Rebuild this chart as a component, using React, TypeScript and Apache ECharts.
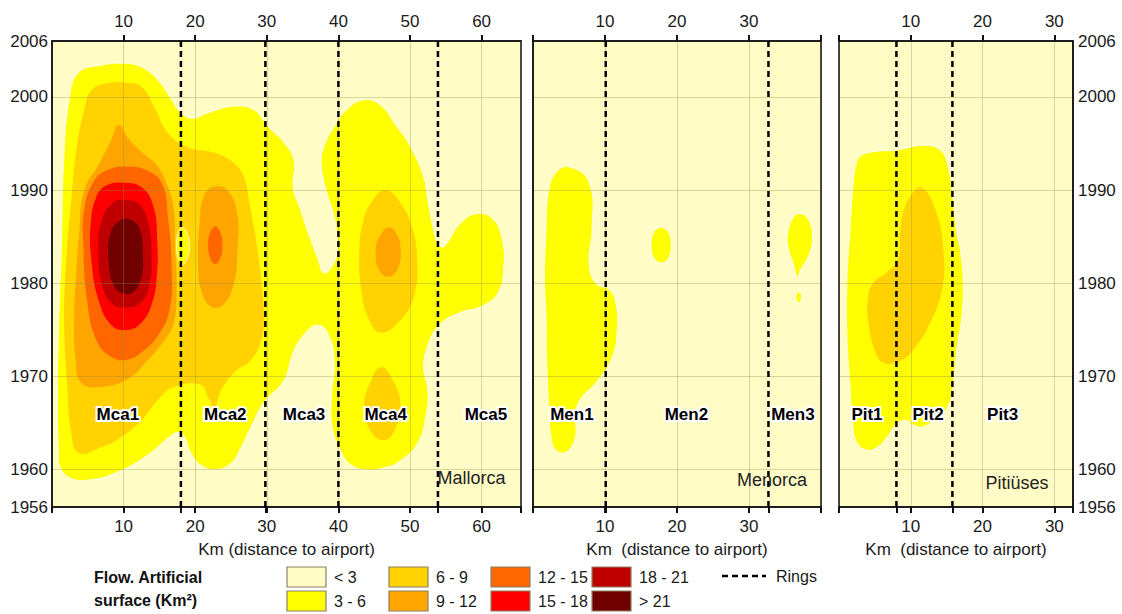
import React, { useEffect, useRef } from "react";
import * as echarts from "echarts";

const FONT = "'Liberation Sans', Arial, Helvetica, sans-serif";

// ---- classes ----
const LEVEL_COLORS = ["#FFFCC6", "#FFFF00", "#FFD200", "#FFA500", "#FF6600", "#FF0000", "#C00000", "#700000"];
const LEVEL_LABELS = ["< 3", "3 - 6", "6 - 9", "9 - 12", "12 - 15", "15 - 18", "18 - 21", "> 21"];

// ---- y axis (years) ----
const YEAR_MIN = 1956;
const YEAR_MAX = 2006;
const YEAR_TICK_LABELS = [1956, 1960, 1970, 1980, 1990, 2000, 2006];
const YEAR_GRID_LINES = [1960, 1970, 1980, 1990, 2000];
const ZONE_LABEL_YEAR = 1965.9;

// ---- Mallorca ----
const MCA_MAX_KM = 65.5;
const MCA_TICKS = [10, 20, 30, 40, 50, 60];
const MCA_RINGS = [18, 29.8, 40, 53.9];
const MCA_ZONES = ["Mca1", "Mca2", "Mca3", "Mca4", "Mca5"];
const MCA_ZONE_KM = [9.2, 24.2, 35.2, 46.6, 60.6];

const MCA_YELLOW = [[0.9,1961.6],[0.75,1967.5],[0.9,1975.0],[1.3,1983.6],[1.6,1992.5],[2.4,1999.7],[3.7,2002.6],[6.9,2003.4],[10.1,2003.6],[12.5,2003.2],[14.8,2001.8],[16.7,1999.7],[18.0,1998.3],[19.7,1997.7],[21.8,1998.3],[25.4,1999.0],[28.2,1998.6],[30.2,1996.8],[32.4,1995.1],[33.8,1993.2],[33.7,1990.3],[34.8,1987.7],[35.8,1985.4],[37.2,1982.5],[38.0,1981.1],[39.4,1982.2],[39.9,1984.1],[39.4,1987.1],[38.3,1990.0],[37.6,1992.7],[37.9,1994.5],[39.4,1996.8],[41.1,1998.6],[43.6,1999.7],[45.9,1999.1],[48.0,1997.0],[50.1,1994.6],[51.9,1991.4],[52.5,1988.9],[53.3,1985.7],[53.9,1984.3],[54.7,1983.9],[57.1,1986.5],[59.5,1987.5],[61.7,1986.8],[62.9,1984.6],[63.1,1981.8],[62.3,1979.0],[59.9,1977.5],[57.1,1976.9],[54.3,1975.7],[52.6,1973.6],[51.9,1971.0],[52.5,1968.5],[52.2,1965.7],[51.1,1962.9],[48.7,1961.0],[46.4,1960.2],[43.8,1960.0],[41.8,1960.5],[40.4,1961.9],[39.2,1964.3],[39.0,1967.5],[39.4,1971.8],[38.5,1974.7],[37.2,1975.5],[35.8,1975.0],[33.8,1972.8],[32.4,1969.6],[29.6,1967.2],[27.8,1964.6],[26.4,1962.4],[25.0,1960.7],[22.7,1960.0],[20.8,1960.5],[19.4,1961.8],[18.5,1963.5],[17.6,1964.0],[16.2,1963.4],[13.4,1961.6],[9.3,1959.8],[5.1,1958.9],[2.3,1959.2],[1.0,1960.5]];
const MCA_GOLD = [[4.5,1998.6],[5.5,2000.7],[7.9,2001.5],[10.7,2001.5],[12.5,2001.1],[14.3,1998.9],[16.2,1996.1],[19.0,1994.6],[22.7,1994.0],[25.4,1992.9],[26.8,1991.4],[27.5,1988.9],[28.5,1984.6],[29.2,1980.4],[29.6,1976.4],[29.2,1973.9],[27.8,1971.8],[25.4,1970.4],[23.6,1968.5],[22.7,1966.7],[21.8,1967.8],[20.8,1969.1],[17.1,1968.9],[14.8,1967.5],[12.5,1965.3],[9.7,1963.5],[6.9,1962.4],[3.7,1961.8],[2.7,1963.9],[2.1,1969.3],[1.7,1976.4],[2.1,1983.6],[2.7,1988.9],[3.4,1994.3]];
const MCA_YELLOW_HOLE = [[18.2,1986.0],[18.9,1985.3],[19.2,1984.0],[18.9,1982.7],[18.2,1982.0],[17.6,1982.7],[17.4,1984.0],[17.6,1985.3]];
const MCA1_ORANGE = [[9.3,1997.0],[10.8,1995.4],[12.5,1994.1],[14.6,1992.7],[16.2,1990.3],[17.0,1987.9],[17.2,1983.6],[17.4,1979.3],[17.0,1975.7],[15.7,1973.9],[13.4,1971.8],[10.7,1969.8],[6.9,1968.9],[4.1,1969.3],[3.3,1971.8],[3.1,1976.1],[3.4,1981.4],[3.8,1985.4],[4.5,1990.0],[6.5,1992.7],[8.3,1995.4]];
const MCA1_DKORANGE = [[7.9,1992.2],[10.4,1992.5],[12.9,1992.2],[15.3,1990.8],[16.2,1987.1],[16.7,1981.8],[16.4,1977.1],[14.8,1974.4],[12.5,1972.6],[10.4,1971.8],[8.3,1972.1],[6.2,1973.9],[4.9,1978.2],[4.4,1983.6],[4.5,1987.9],[5.8,1990.9]];
const MCA1_RED = [[7.6,1990.5],[10.1,1990.8],[12.5,1990.3],[14.1,1988.4],[14.7,1984.6],[14.6,1980.4],[13.9,1977.7],[12.5,1975.8],[10.4,1975.0],[8.3,1975.5],[6.5,1978.2],[5.5,1982.5],[5.4,1986.3],[6.2,1989.3]];
const MCA1_DKRED = [[8.6,1988.7],[10.4,1988.9],[12.2,1988.5],[13.4,1986.6],[13.9,1983.0],[13.6,1979.8],[12.5,1978.0],[10.4,1977.4],[8.3,1977.9],[7.0,1979.8],[6.5,1983.0],[6.9,1986.6]];
const MCA1_MAROON = [[9.4,1986.7],[11.1,1986.8],[12.3,1985.7],[12.7,1983.0],[12.5,1980.6],[11.4,1979.1],[10.0,1978.9],[8.6,1979.8],[7.9,1982.5],[8.1,1985.2]];
const MCA2_ORANGE = [[22.9,1990.4],[24.7,1989.8],[25.9,1987.3],[25.9,1983.6],[25.4,1980.0],[23.9,1977.7],[22.2,1977.5],[20.8,1979.3],[20.4,1982.5],[20.6,1986.3],[21.3,1989.5]];
const MCA2_DKORANGE = [[22.8,1986.1],[23.5,1985.5],[23.8,1984.1],[23.5,1982.7],[22.8,1982.1],[22.1,1982.7],[21.8,1984.1],[22.1,1985.5]];
const MCA4_GOLD = [[46.6,1990.0],[48.7,1988.6],[50.4,1985.7],[51.0,1982.2],[50.5,1978.5],[48.7,1976.1],[45.9,1974.7],[44.1,1976.4],[43.2,1979.3],[42.9,1982.8],[43.4,1986.5],[44.8,1988.9]];
const MCA4_ORANGE = [[47.1,1986.0],[48.2,1985.2],[48.7,1983.4],[48.3,1981.6],[47.1,1980.7],[45.7,1981.4],[45.2,1983.4],[45.8,1985.1]];
const MCA4_GOLD_LOW = [[45.9,1971.0],[47.6,1969.6],[48.7,1966.9],[48.0,1964.5],[46.6,1963.2],[44.6,1964.0],[43.6,1966.9],[44.3,1969.1]];

const MCA_CONTOURS: [number, number[][]][] = [
  [1, MCA_YELLOW], [2, MCA_GOLD], [1, MCA_YELLOW_HOLE], [3, MCA1_ORANGE], [4, MCA1_DKORANGE],
  [5, MCA1_RED], [6, MCA1_DKRED], [7, MCA1_MAROON], [3, MCA2_ORANGE], [4, MCA2_DKORANGE],
  [2, MCA4_GOLD], [3, MCA4_ORANGE], [2, MCA4_GOLD_LOW],
];

// ---- Menorca ----
const MEN_MAX_KM = 40;
const MEN_TICKS = [10, 20, 30];
const MEN_RINGS = [10.1, 32.7];
const MEN_ZONES = ["Men1", "Men2", "Men3"];
const MEN_ZONE_KM = [5.4, 21.3, 36.1];

const MEN1_YELLOW = [[5.0,1992.5],[7.8,1990.8],[8.2,1985.7],[7.8,1982.2],[8.7,1980.0],[10.6,1979.3],[11.5,1977.9],[11.7,1975.0],[11.0,1972.1],[8.7,1969.3],[6.8,1967.8],[5.9,1966.1],[5.9,1963.5],[4.6,1961.9],[3.2,1962.1],[2.5,1963.5],[2.2,1966.7],[1.9,1971.5],[1.8,1976.4],[1.6,1980.4],[1.8,1985.7],[2.2,1990.0],[3.2,1991.9]];
const MEN2_YELLOW = [[17.8,1986.0],[18.8,1985.5],[19.2,1984.1],[18.8,1982.7],[17.8,1982.2],[16.8,1982.7],[16.4,1984.1],[16.8,1985.5]];
const MEN3_YELLOW = [[37.1,1987.5],[38.3,1986.8],[38.8,1985.0],[38.4,1983.2],[37.2,1981.5],[36.7,1980.7],[36.2,1982.0],[35.4,1984.0],[35.4,1985.5],[36.1,1987.0]];
const MEN3_DOT = [[36.9,1979.1],[37.3,1978.5],[36.9,1977.9],[36.5,1978.5]];

const MEN_CONTOURS: [number, number[][]][] = [
  [1, MEN1_YELLOW], [1, MEN2_YELLOW], [1, MEN3_YELLOW], [1, MEN3_DOT],
];

// ---- Pitiüses ----
const PIT_MAX_KM = 32.6;
const PIT_TICKS = [10, 20, 30];
const PIT_RINGS = [8.0, 15.8];
const PIT_ZONES = ["Pit1", "Pit2", "Pit3"];
const PIT_ZONE_KM = [3.9, 12.4, 22.8];

const PIT_YELLOW = [[2.9,1993.6],[4.7,1994.1],[8.1,1994.3],[11.7,1994.8],[14.1,1994.3],[15.2,1992.5],[15.9,1988.9],[16.4,1985.4],[16.9,1983.6],[17.3,1980.0],[17.1,1976.4],[16.4,1972.8],[15.9,1969.3],[15.1,1966.7],[13.1,1965.3],[11.7,1964.6],[10.3,1964.8],[9.4,1965.3],[8.1,1965.0],[6.7,1963.5],[5.3,1962.4],[3.9,1962.1],[2.5,1962.9],[1.9,1965.0],[1.5,1969.3],[1.1,1974.7],[1.1,1980.0],[1.5,1985.4],[1.9,1990.0],[2.3,1992.5]];
const PIT_GOLD = [[11.5,1990.3],[13.6,1987.5],[14.5,1983.9],[14.5,1980.0],[13.1,1976.4],[10.3,1972.8],[8.0,1971.5],[6.1,1971.5],[5.0,1972.8],[4.1,1975.7],[4.0,1978.2],[4.7,1980.0],[6.7,1981.2],[8.2,1982.5],[8.5,1985.4],[8.9,1987.5],[9.9,1989.3]];

const PIT_CONTOURS: [number, number[][]][] = [[1, PIT_YELLOW], [2, PIT_GOLD]];

// ---- layout ----
const GRIDS = [
  { left: 52, width: 469 },
  { left: 533, width: 288 },
  { left: 839, width: 234 },
];
const GRID_TOP = 41;
const GRID_HEIGHT = 466;

const PANELS = [
  { max: MCA_MAX_KM, ticks: MCA_TICKS, topTicks: MCA_TICKS, rings: MCA_RINGS, zones: MCA_ZONES, zoneKm: MCA_ZONE_KM, contours: MCA_CONTOURS, island: "Mallorca", islandPos: [58.6, 1959.1], axisName: "Km (distance to airport)" },
  { max: MEN_MAX_KM, ticks: MEN_TICKS, topTicks: [0, 10, 20, 30, 40], rings: MEN_RINGS, zones: MEN_ZONES, zoneKm: MEN_ZONE_KM, contours: MEN_CONTOURS, island: "Menorca", islandPos: [33.2, 1958.9], axisName: "Km  (distance to airport)" },
  { max: PIT_MAX_KM, ticks: PIT_TICKS, topTicks: [0, 10, 20, 30], rings: PIT_RINGS, zones: PIT_ZONES, zoneKm: PIT_ZONE_KM, contours: PIT_CONTOURS, island: "Pitiüses", islandPos: [24.8, 1958.6], axisName: "Km  (distance to airport)" },
];

const TXT = "#1a1a1a";
const plain = (v: number) => String(v);

function buildOption() {
  const grid: any[] = [];
  const xAxis: any[] = [];
  const yAxis: any[] = [];
  const series: any[] = [];

  PANELS.forEach((p, i) => {
    grid.push({
      left: GRIDS[i].left, width: GRIDS[i].width, top: GRID_TOP, height: GRID_HEIGHT,
      show: true, z: 5, borderColor: "#111", borderWidth: 1.5, backgroundColor: "transparent",
      containLabel: false, outerBoundsMode: "none",
    });
    xAxis.push({
      type: "value", gridIndex: i, position: "bottom", min: 0, max: p.max, z: 4,
      name: p.axisName, nameLocation: "middle", nameGap: 34, nameMoveOverlap: false,
      nameTextStyle: { fontSize: 17, color: TXT, fontFamily: FONT },
      axisLine: { show: true, onZero: false, lineStyle: { color: "#111", width: 1.5 } },
      axisTick: { show: true, length: 6, customValues: [0, ...p.ticks, ...p.rings, p.max], lineStyle: { color: "#111", width: 2 } },
      axisLabel: { show: true, customValues: p.ticks, formatter: plain, margin: 11, fontSize: 17, color: TXT, fontFamily: FONT },
      splitLine: { show: false },
    });
    xAxis.push({
      type: "value", gridIndex: i, position: "top", min: 0, max: p.max, z: 4,
      axisLine: { show: true, onZero: false, lineStyle: { color: "#111", width: 1.5 } },
      axisTick: { show: true, length: 6, customValues: p.topTicks, lineStyle: { color: "#111", width: 2 } },
      axisLabel: { show: true, customValues: p.ticks, formatter: plain, margin: 11, fontSize: 17, color: TXT, fontFamily: FONT },
      splitLine: { show: true, lineStyle: { color: "rgba(140,140,70,0.35)", width: 1 } },
    });
    yAxis.push({
      type: "value", gridIndex: i, min: YEAR_MIN, max: YEAR_MAX, z: 4,
      position: i === 2 ? "right" : "left",
      axisLine: { show: true, onZero: false, lineStyle: { color: "#111", width: 1.5 } },
      axisTick: { show: false, customValues: YEAR_GRID_LINES },
      axisLabel: { show: i !== 1, customValues: YEAR_TICK_LABELS, formatter: plain, margin: i === 2 ? 5 : 4, fontSize: 17, color: TXT, fontFamily: FONT },
      splitLine: { show: true, lineStyle: { color: "rgba(140,140,70,0.35)", width: 1 } },
    });

    const contours = p.contours;
    series.push({
      type: "custom", xAxisIndex: i * 2, yAxisIndex: i, z: 2, silent: true, clip: true,
      data: [[0, YEAR_MIN, -1], ...contours.map((c, k) => [c[1][0][0], c[1][0][1], k])],
      renderItem: (params: any, api: any) => {
        const k = params.dataIndex - 1;
        if (k < 0) {
          const cs = params.coordSys;
          return { type: "rect", shape: { x: cs.x, y: cs.y, width: cs.width, height: cs.height }, style: { fill: LEVEL_COLORS[0] } };
        }
        const [lvl, pts] = contours[k];
        return {
          type: "polygon",
          shape: { points: pts.map((pt) => api.coord(pt)), smooth: 0.45 },
          style: lvl === 1
            ? { fill: LEVEL_COLORS[lvl], stroke: "rgba(255,255,255,0.75)", lineWidth: 1 }
            : { fill: LEVEL_COLORS[lvl] },
        };
      },
    });
    series.push({
      type: "custom", xAxisIndex: i * 2, yAxisIndex: i, z: 6, silent: true,
      data: p.rings.map((r) => [r, YEAR_MIN]),
      renderItem: (params: any, api: any) => {
        const a = api.coord([api.value(0), YEAR_MAX]);
        const b = api.coord([api.value(0), YEAR_MIN]);
        return { type: "line", shape: { x1: a[0], y1: a[1], x2: b[0], y2: b[1] }, style: { stroke: "#000", lineWidth: 2.5, lineDash: [6, 4] } };
      },
    });
    const zoneData = p.zones.map((z, k) => ({ name: z, value: [p.zoneKm[k], ZONE_LABEL_YEAR] }));
    series.push({
      type: "scatter", xAxisIndex: i * 2, yAxisIndex: i, z: 8, silent: true, symbolSize: 0,
      itemStyle: { opacity: 1 },
      data: zoneData,
      label: { show: true, position: "inside", formatter: "{b}", fontFamily: FONT, fontWeight: "bold", fontSize: 17, color: "#fff", textBorderColor: "#fff", textBorderWidth: 4 },
    });
    series.push({
      type: "scatter", xAxisIndex: i * 2, yAxisIndex: i, z: 9, silent: true, symbolSize: 0,
      itemStyle: { opacity: 1 },
      data: zoneData,
      label: { show: true, position: "inside", formatter: "{b}", fontFamily: FONT, fontWeight: "bold", fontSize: 17, color: "#000" },
    });
    series.push({
      type: "scatter", xAxisIndex: i * 2, yAxisIndex: i, z: 8, silent: true, symbolSize: 0,
      itemStyle: { opacity: 1 },
      data: [{ name: p.island, value: p.islandPos }],
      label: { show: true, position: "inside", formatter: "{b}", fontFamily: FONT, fontSize: 18, color: "#222" },
    });
  });

  const graphic: any[] = [
    { type: "text", x: 94, y: 577, style: { text: "Flow. Artificial", fontFamily: FONT, fontWeight: "bold", fontSize: 16, fill: "#111", verticalAlign: "middle" } },
    { type: "text", x: 94, y: 600, style: { text: "surface (Km²)", fontFamily: FONT, fontWeight: "bold", fontSize: 16, fill: "#111", verticalAlign: "middle" } },
  ];
  const colX = [287, 389, 491, 592];
  LEVEL_COLORS.forEach((c, idx) => {
    const col = Math.floor(idx / 2);
    const row = idx % 2;
    const y = row === 0 ? 567 : 591;
    graphic.push({ type: "rect", shape: { x: colX[col], y, width: 39, height: 20 }, style: { fill: c, stroke: "#8C8064", lineWidth: 1.2 } });
    graphic.push({ type: "text", x: colX[col] + 47, y: y + 10, style: { text: LEVEL_LABELS[idx], fontFamily: FONT, fontSize: 16, fill: TXT, verticalAlign: "middle" } });
  });
  graphic.push({ type: "line", shape: { x1: 722, y1: 576, x2: 766, y2: 576 }, style: { stroke: "#000", lineWidth: 2.5, lineDash: [6, 4] } });
  graphic.push({ type: "text", x: 776, y: 576, style: { text: "Rings", fontFamily: FONT, fontSize: 16, fill: TXT, verticalAlign: "middle" } });

  return {
    animation: false,
    backgroundColor: "#ffffff",
    textStyle: { fontFamily: FONT },
    grid, xAxis, yAxis, series, graphic,
  };
}

export default function App() {
  const ref = useRef<HTMLDivElement>(null);
  useEffect(() => {
    if (!ref.current) return;
    const chart = echarts.init(ref.current, null, { renderer: "svg" });
    chart.setOption(buildOption() as any);
    return () => chart.dispose();
  }, []);
  return <div ref={ref} style={{ position: "fixed", left: 0, top: 0, width: 1122, height: 614, background: "#fff" }} />;
}
